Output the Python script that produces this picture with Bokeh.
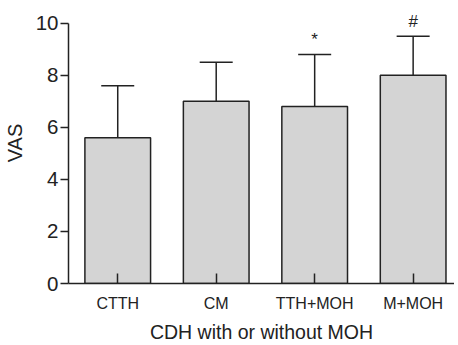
from bokeh.plotting import figure
from bokeh.models import FixedTicker, Whisker, ColumnDataSource, TeeHead, Range1d
from bokeh.core.properties import value
from bokeh.embed import file_html
from bokeh.resources import INLINE

categories = ["CTTH", "CM", "TTH+MOH", "M+MOH"]
means = [5.6, 7.0, 6.8, 8.0]
sds = [2.0, 1.5, 2.0, 1.5]
marks = ["", "", "*", "#"]

xs = list(range(len(categories)))
upper = [m + s for m, s in zip(means, sds)]
src = ColumnDataSource(dict(x=xs, mean=means, upper=upper, mark=marks,
                            mark_y=[u + 0.22 for u in upper]))

FONT = "Liberation Sans"
DARK = "#222222"

p = figure(width=454, height=345, output_backend="svg", toolbar_location=None,
           x_range=Range1d(-0.5, 3.42), y_range=Range1d(0, 10.8),
           min_border_left=66, min_border_right=0, min_border_top=2, min_border_bottom=60)
p.outline_line_color = None
p.xgrid.visible = False
p.ygrid.visible = False

p.vbar(x="x", top="mean", bottom=0, width=0.667, source=src,
       fill_color="#d4d4d4", line_color=DARK, line_width=1.5)

w = Whisker(base="x", lower="mean", upper="upper", source=src, dimension="height",
            line_color=DARK, line_width=1.5,
            upper_head=TeeHead(size=33, line_color=DARK, line_width=1.5),
            lower_head=None)
p.add_layout(w)

p.text(x="x", y="mark_y", text="mark", source=src, text_align="center",
       text_baseline="bottom", text_font=value(FONT), text_font_size="17px",
       text_color=DARK)

# x axis
xa = p.xaxis[0]
xa.ticker = FixedTicker(ticks=xs)
xa.major_label_overrides = {i: c for i, c in enumerate(categories)}
xa.major_tick_in = 10
xa.major_tick_out = 0
xa.minor_tick_line_color = None
xa.axis_line_color = DARK
xa.axis_line_width = 1.5
xa.major_tick_line_color = DARK
xa.major_tick_line_width = 1.5
xa.major_label_text_font = FONT
xa.major_label_text_font_size = "16px"
xa.major_label_text_color = DARK
xa.major_label_standoff = 11
xa.axis_label = "CDH with or without MOH"
xa.axis_label_text_font = FONT
xa.axis_label_text_font_size = "19.5px"
xa.axis_label_text_font_style = "normal"
xa.axis_label_text_color = DARK
xa.axis_label_standoff = 6

# y axis
ya = p.yaxis[0]
ya.ticker = FixedTicker(ticks=[0, 2, 4, 6, 8, 10])
ya.bounds = (0, 10)
ya.major_tick_in = 0
ya.major_tick_out = 8
ya.minor_tick_line_color = None
ya.axis_line_color = DARK
ya.axis_line_width = 1.5
ya.major_tick_line_color = DARK
ya.major_tick_line_width = 1.5
ya.major_label_text_font = FONT
ya.major_label_text_font_size = "20.5px"
ya.major_label_text_color = DARK
ya.major_label_standoff = 2
ya.axis_label = "VAS"
ya.axis_label_text_font = FONT
ya.axis_label_text_font_size = "20px"
ya.axis_label_text_font_style = "normal"
ya.axis_label_text_color = DARK
ya.axis_label_standoff = 7

open("out.html", "w").write(file_html(p, INLINE))
